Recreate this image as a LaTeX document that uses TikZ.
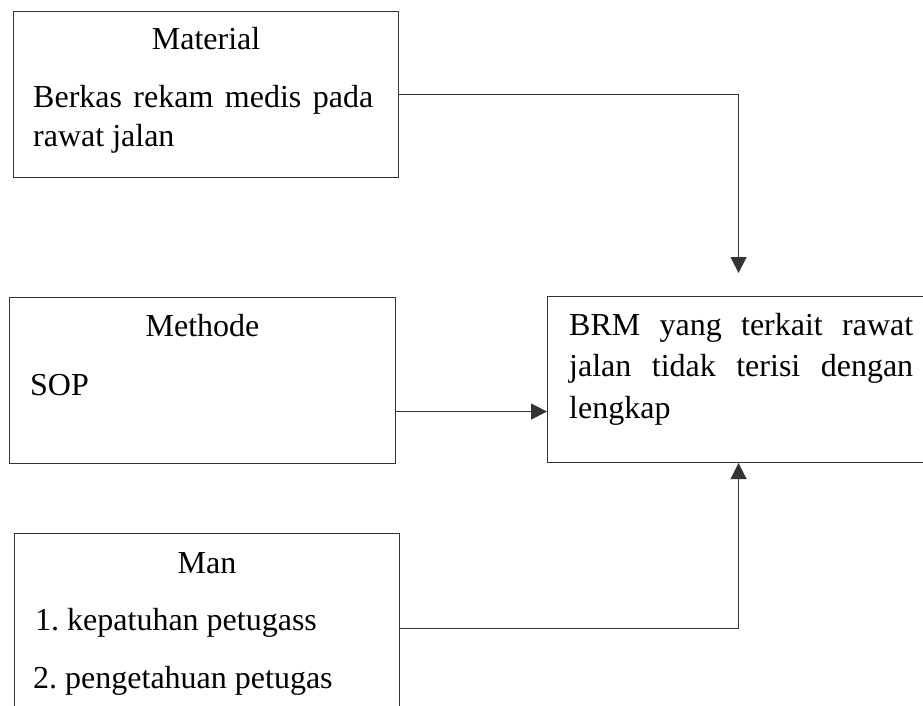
\documentclass[tikz,border=0pt]{standalone}
\usepackage{fontspec}
\setmainfont{Liberation Serif}
\usetikzlibrary{positioning,arrows.meta}
\hbadness=10000
\frenchspacing

\begin{document}
\begin{tikzpicture}[x=1pt, y=-1pt,
    box/.style={rectangle, draw=black!80, line width=1.1pt, inner sep=0pt, anchor=north west},
    % titles are centred on the box, bodies start at the left
    ttl/.style={anchor=base, inner sep=0pt, font=\fontsize{32}{39}\selectfont},
    body/.style={anchor=base west, inner sep=0pt, align=justify, font=\fontsize{32}{39}\selectfont},
    link/.style={draw=black!80, line width=1.1pt, -{Triangle[length=16pt, width=16pt]}}
  ]
    \useasboundingbox (0,0) rectangle (923,706);
    \clip (0,0) rectangle (923,706);

    %--- Cause boxes (left column) and effect box (right)
    \node[box, minimum width=385pt, minimum height=166pt] (material) at (13,11) {};
    \node[box, minimum width=386pt, minimum height=166pt] (methode) at (9,297) {};
    \node[box, minimum width=385pt, minimum height=190pt] (man) at (14,533) {};
    \node[box, minimum width=382pt, minimum height=166pt] (brm) at (547,296) {};

    %--- Texts
    \node[ttl] (materialTitle) at (material.north |- 0,50) {Material};
    \node[body, text width=340pt] (materialText) at (33,108)
      {Berkas rekam medis pada\linebreak rawat jalan};

    \node[ttl] (methodeTitle) at (methode.north |- 0,336) {Methode};
    \node[body] (sopText) at (30,395) {SOP};

    \node[ttl] (manTitle) at (man.north |- 0,573) {Man};
    \node[body] (manOne) at (35,630) {1. kepatuhan petugass};
    \node[body] (manTwo) at (33,688) {2. pengetahuan petugas};

    \node[body, text width=344pt, font=\fontsize{32}{41.5}\selectfont] (brmText) at (569,335)
      {BRM yang terkait rawat\linebreak jalan tidak terisi dengan\linebreak lengkap};

    %--- Connectors into the effect box
    \draw[link, shorten >=23pt] (material.east) -| (brm.north);
    \draw[link] ([yshift=-31pt]methode.east) -- ([yshift=-31pt]methode.east -| brm.west);
    \draw[link] (man.east) -| (brm.south);
  \end{tikzpicture}
\end{document}
